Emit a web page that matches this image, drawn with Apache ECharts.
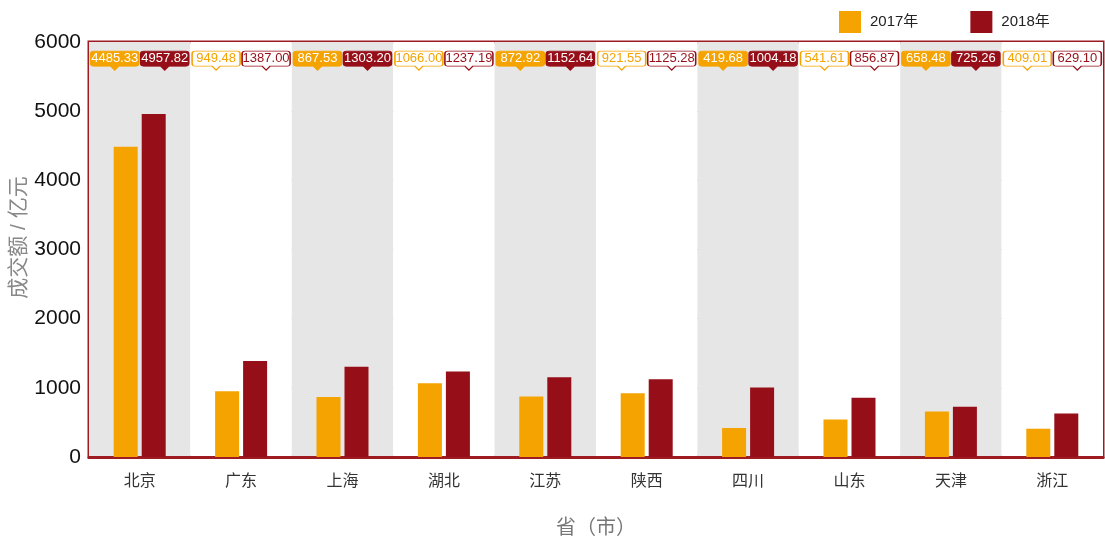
<!DOCTYPE html>
<html>
<head>
<meta charset="utf-8">
<script src="https://cdn.jsdelivr.net/npm/echarts@6/dist/echarts.min.js"></script>
<style>
  html, body { margin: 0; padding: 0; background: #fff; }
  #main { width: 1105px; height: 542px; }
</style>
</head>
<body>
<div id="main"></div>
<script>
var categories = ['北京', '广东', '上海', '湖北', '江苏', '陕西', '四川', '山东', '天津', '浙江'];
var values2017 = [4485.33, 949.48, 867.53, 1066.00, 872.92, 921.55, 419.68, 541.61, 658.48, 409.01];
var values2018 = [4957.82, 1387.00, 1303.20, 1237.19, 1152.64, 1125.28, 1004.18, 856.87, 725.26, 629.10];
var yTicks = { min: 0, max: 6000, interval: 1000 };

var ORANGE = '#F5A300';
var RED = '#960F18';
var FONT = "'Liberation Sans', Arial, 'Noto Sans CJK SC', sans-serif";
// pin-shaped value tag, pinned along the top of the plot
var PIN = 'path://M3,0 H45 Q48,0 48,3 V12 Q48,15 45,15 H28 L24,19 L20,15 H3 Q0,15 0,12 V3 Q0,0 3,0 Z';
var PIN_Y = 5730;

function pins(values, color) {
    return values.map(function (v, i) {
        var filled = i % 2 === 0;
        return {
            coord: [i, PIN_Y],
            value: v.toFixed(2),
            itemStyle: {
                color: filled ? color : '#fff',
                borderColor: color,
                borderWidth: 1
            },
            label: { color: filled ? '#fff' : color }
        };
    });
}

function barSeries(name, values, color, offset) {
    return {
        name: name,
        type: 'bar',
        barWidth: 24,
        barGap: '16.7%',
        itemStyle: { color: color },
        data: values,
        markPoint: {
            symbol: PIN,
            symbolSize: [48, 19],
            symbolOffset: [offset, 0],
            label: {
                show: true,
                position: 'inside',
                offset: [0, -2],
                fontSize: 13,
                fontFamily: FONT,
                formatter: '{c}'
            },
            data: pins(values, color)
        }
    };
}

var myChart = echarts.init(document.getElementById('main'));

option = {
    animation: false,
    textStyle: { fontFamily: FONT },
    legend: {
        left: 839,
        top: 11,
        padding: 0,
        icon: 'rect',
        itemWidth: 22,
        itemHeight: 22,
        itemGap: 52,
        textStyle: { fontSize: 15, color: '#222', fontFamily: FONT, padding: [0, 0, 0, 4] },
        data: ['2017年', '2018年']
    },
    grid: {
        left: 89,
        right: 2,
        top: 42,
        bottom: 85,
        outerBoundsMode: 'none',
        containLabel: false,
        show: true,
        borderColor: '#9E1B22',
        borderWidth: 3,
        backgroundColor: 'transparent'
    },
    xAxis: {
        type: 'category',
        data: categories,
        name: '省（市）',
        nameLocation: 'middle',
        nameGap: 61,
        nameMoveOverlap: false,
        nameTextStyle: { fontSize: 20, color: '#777', fontFamily: FONT },
        axisLine: { lineStyle: { color: '#9E1B22', width: 3 } },
        axisTick: { length: 12, lineStyle: { color: '#B8545A', width: 1.5 } },
        axisLabel: { fontSize: 16, color: '#333', margin: 17 },
        splitArea: { show: true, areaStyle: { color: ['#E6E6E6', '#FFFFFF'] } }
    },
    yAxis: {
        type: 'value',
        min: yTicks.min,
        max: yTicks.max,
        interval: yTicks.interval,
        name: '成交额 / 亿元',
        nameLocation: 'middle',
        nameGap: 59,
        nameMoveOverlap: false,
        nameTextStyle: { fontSize: 21, color: '#888', fontFamily: FONT, padding: [0, 0, 0, 24] },
        axisLine: { show: false },
        axisTick: { show: false },
        axisLabel: {
            fontSize: 21,
            color: '#111',
            margin: 8,
            formatter: function (v) { return String(v); }
        },
        splitLine: { lineStyle: { color: '#AAAAAA', type: 'dotted', width: 1 } }
    },
    series: [
        barSeries('2017年', values2017, ORANGE, -11),
        barSeries('2018年', values2018, RED, 11)
    ]
};

myChart.setOption(option);
</script>
</body>
</html>
